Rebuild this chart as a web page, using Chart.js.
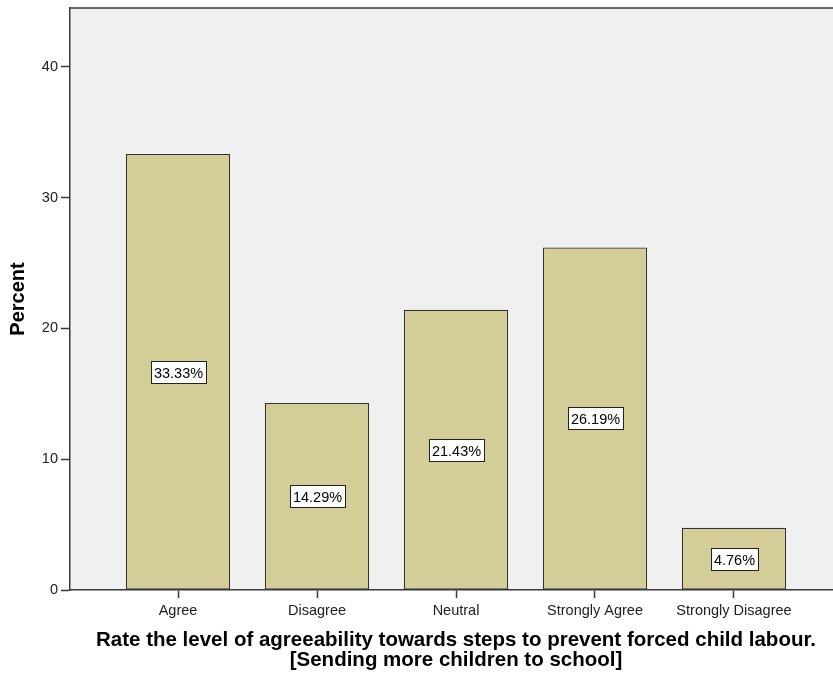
<!DOCTYPE html>
<html>
<head>
<meta charset="utf-8">
<script src="https://cdn.jsdelivr.net/npm/chart.js@4.4.1/dist/chart.umd.min.js"></script>
<style>
html,body{margin:0;padding:0;overflow:hidden;background:#fff;width:833px;height:675px;}
#wrap{position:relative;width:842px;height:675px;}
</style>
</head>
<body>
<div id="wrap"><canvas id="c" width="842" height="675"></canvas></div>
<script>
const categories = ['Agree', 'Disagree', 'Neutral', 'Strongly Agree', 'Strongly Disagree'];
const percentValues = [33.33, 14.29, 21.43, 26.19, 4.76];
const yTicks = [0, 10, 20, 30, 40];
const xTitle = ['Rate the level of agreeability towards steps to prevent forced child labour.', '[Sending more children to school]'];
const yTitle = 'Percent';

const FONT = "'Liberation Sans', Arial, sans-serif";
const AXIS = '#3a3a3a';

const bgPlugin = {
  id: 'bgPlugin',
  beforeDraw(chart) {
    const {ctx, chartArea: a} = chart;
    ctx.save();
    ctx.fillStyle = '#F0F0F0';
    ctx.fillRect(a.left, a.top, a.right - a.left, a.bottom - a.top);
    ctx.strokeStyle = AXIS;
    ctx.lineWidth = 1.5;
    ctx.beginPath();
    ctx.moveTo(a.left, a.top);
    ctx.lineTo(a.right, a.top);
    ctx.stroke();
    ctx.restore();
  }
};

const labelPlugin = {
  id: 'labelPlugin',
  afterDatasetsDraw(chart) {
    const {ctx} = chart;
    const meta = chart.getDatasetMeta(0);
    ctx.save();
    ctx.font = '14.5px ' + FONT;
    ctx.textAlign = 'center';
    ctx.textBaseline = 'middle';
    meta.data.forEach((bar, i) => {
      const txt = percentValues[i].toFixed(2) + '%';
      const w = Math.round(ctx.measureText(txt).width + 6);
      const h = 22;
      const cx = Math.round(bar.x);
      const cy = Math.round((bar.y + bar.base) / 2);
      const x0 = Math.round(cx - w / 2);
      const y0 = Math.round(cy - h / 2);
      ctx.fillStyle = '#fff';
      ctx.fillRect(x0, y0, w, h);
      ctx.strokeStyle = '#222';
      ctx.lineWidth = 1;
      ctx.strokeRect(x0 + 0.5, y0 + 0.5, w, h);
      ctx.fillStyle = '#000';
      ctx.fillText(txt, cx + 0.5, cy + 1.5);
    });
    ctx.restore();
  }
};

new Chart(document.getElementById('c'), {
  type: 'bar',
  data: {
    datasets: [{
      data: percentValues.map((v, i) => ({x: i, y: v})),
      backgroundColor: '#D3CE97',
      borderColor: '#333',
      borderWidth: 1.2,
      borderSkipped: false,
      barPercentage: 0.75,
      categoryPercentage: 1
    }]
  },
  options: {
    responsive: false,
    animation: false,
    devicePixelRatio: 1,
    layout: {padding: {top: 8, right: 0, left: 0, bottom: 0}},
    plugins: {legend: {display: false}, tooltip: {enabled: false}},
    scales: {
      x: {
        type: 'linear',
        min: -0.777,
        max: 4.777,
        offset: false,
        afterFit(s) { s.height = 85; s.paddingLeft = 0; s.paddingRight = 0; },
        afterBuildTicks(s) { s.ticks = categories.map((c, i) => ({value: i})); },
        ticks: {
          includeBounds: false,
          stepSize: 1,
          autoSkip: false,
          maxRotation: 0,
          padding: 4,
          color: '#222',
          font: {family: FONT, size: 14.5},
          callback: (v) => categories[v]
        },
        grid: {offset: false, drawOnChartArea: false, drawTicks: true, tickLength: 8, color: AXIS, tickWidth: 1.5},
        border: {display: true, color: AXIS, width: 1.5},
        title: {
          display: true,
          text: xTitle,
          color: '#000',
          font: {family: FONT, size: 20.5, weight: 'bold', lineHeight: 0.95},
          padding: {top: 0, bottom: 5}
        }
      },
      y: {
        min: 0,
        max: 44.5,
        afterFit(s) { s.width = 70; s.paddingTop = 0; s.paddingBottom = 0; },
        afterBuildTicks(s) { s.ticks = yTicks.map(v => ({value: v})); },
        ticks: {
          padding: 3,
          color: '#222',
          font: {family: FONT, size: 14.5}
        },
        grid: {drawOnChartArea: false, drawTicks: true, tickLength: 9, color: AXIS, tickWidth: 1.5},
        border: {display: true, color: AXIS, width: 1.5},
        title: {
          display: true,
          text: yTitle,
          color: '#000',
          font: {family: FONT, size: 20, weight: 'bold', lineHeight: 1.2},
          padding: {top: 6.5, bottom: 0}
        }
      }
    }
  },
  plugins: [bgPlugin, labelPlugin]
});
</script>
</body>
</html>
